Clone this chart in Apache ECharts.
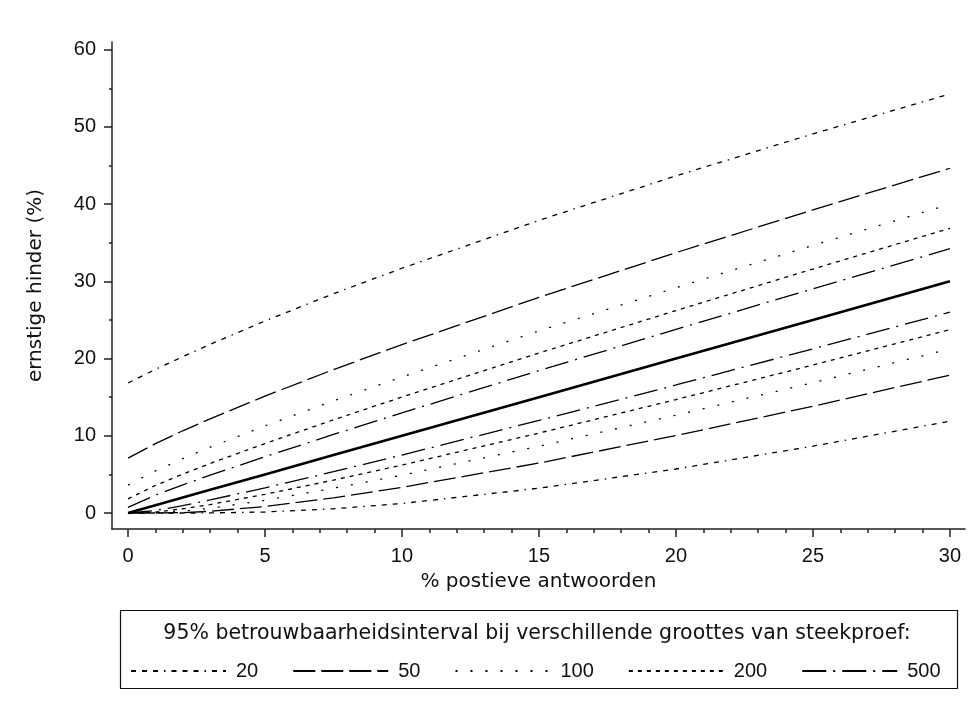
<!DOCTYPE html>
<html>
<head>
<meta charset="utf-8">
<script src="https://cdn.jsdelivr.net/npm/echarts@6/dist/echarts.min.js"></script>
<style>
  html, body { margin: 0; padding: 0; background: #ffffff; }
  #chart { width: 978px; height: 718px; }
</style>
</head>
<body>
<div id="chart"></div>
<script>
// % positive answers (x) at which the interval bounds are given
const pctPositive = [0, 1, 2, 3, 5, 7.5, 10, 15, 20, 25, 30];
// point estimate: severe annoyance equals % positive answers
const estimate = [0, 1, 2, 3, 5, 7.5, 10, 15, 20, 25, 30];

// 95% interval bounds (exact binomial) per sample size
const upper20  = [16.84, 18.6, 20.25, 21.85, 24.87, 28.4, 31.7, 37.9, 43.66, 49.1, 54.28];
const lower20  = [0, 0, 0, 0.01, 0.13, 0.55, 1.23, 3.21, 5.7, 8.66, 11.89];
const upper50  = [7.11, 8.98, 10.65, 12.2, 15.15, 18.57, 21.81, 27.93, 33.72, 39.26, 44.65];
const lower50  = [0, 0, 0.05, 0.22, 0.84, 1.97, 3.33, 6.47, 10.03, 13.83, 17.86];
const upper100 = [3.62, 5.45, 7.04, 8.52, 11.28, 14.53, 17.62, 23.59, 29.18, 34.66, 39.98];
const lower100 = [0, 0.03, 0.24, 0.62, 1.64, 3.21, 4.90, 8.65, 12.67, 16.88, 21.24];
const upper200 = [1.83, 3.57, 5.04, 6.42, 9.0, 12.07, 15.02, 20.72, 26.22, 31.6, 36.87];
const lower200 = [0, 0.12, 0.55, 1.10, 2.42, 4.26, 6.21, 10.35, 14.69, 19.16, 23.74];
const upper500 = [0.74, 2.32, 3.65, 4.90, 7.29, 10.17, 12.97, 18.44, 23.78, 29.04, 34.23];
const lower500 = [0, 0.33, 0.96, 1.69, 3.26, 5.35, 7.51, 11.99, 16.58, 21.26, 26.01];

const sampleSizes = ['20', '50', '100', '200', '500'];
const xTickLabels = [0, 5, 10, 15, 20, 25, 30];
const yTickLabels = [0, 10, 20, 30, 40, 50, 60];
const xMinorTicks = [1, 2, 3, 4, 6, 7, 8, 9, 11, 12, 13, 14, 16, 17, 18, 19, 21, 22, 23, 24, 26, 27, 28, 29];
const yMinorTicks = [5, 15, 25, 35, 45, 55];

const legendTitle = '95% betrouwbaarheidsinterval bij verschillende groottes van steekproef:';
const xName = '% postieve antwoorden';
const yName = 'ernstige hinder (%)';

const NUM_FONT = 'Liberation Sans, Arial, sans-serif';
const TXT_FONT = 'DejaVu Sans, Verdana, sans-serif';
const INK = '#000000';
const AXIS = '#222222';
const TEXT = '#111111';

// dash pattern of each sample size
const dashes = {
  '20':  [5, 6, 5, 6, 5, 6, 1.5, 6],
  '50':  [22, 6],
  '100': [2, 13],
  '200': [4, 5],
  '500': [24, 7, 2, 7]
};
const bounds = {
  '20':  [upper20, lower20],
  '50':  [upper50, lower50],
  '100': [upper100, lower100],
  '200': [upper200, lower200],
  '500': [upper500, lower500]
};

const pairs = arr => pctPositive.map((x, i) => [x, arr[i]]);

const series = [];
sampleSizes.forEach(n => {
  bounds[n].forEach(arr => {
    series.push({
      name: n,
      type: 'line',
      data: pairs(arr),
      symbol: 'none',
      silent: true,
      itemStyle: { color: 'rgba(0,0,0,0)', opacity: 0 },
      lineStyle: { color: INK, width: 1.3, type: dashes[n] },
      z: 3
    });
  });
});
series.push({
  name: 'schatting',
  type: 'line',
  data: pairs(estimate),
  symbol: 'none',
  silent: true,
  lineStyle: { color: INK, width: 2.6, type: 'solid' },
  z: 4
});

const minorAxisCommon = {
  axisLine: { show: false, onZero: false },
  axisLabel: { show: false },
  splitLine: { show: false }
};

const chart = echarts.init(document.getElementById('chart'), null, { renderer: 'canvas' });
chart.setOption({
  animation: false,
  backgroundColor: '#ffffff',
  textStyle: { fontFamily: NUM_FONT },
  grid: { left: 112, right: 13, top: 42, bottom: 189, containLabel: false },
  xAxis: [
    {
      type: 'value', min: -0.584, max: 30.55, position: 'bottom',
      name: xName, nameLocation: 'middle', nameGap: 43,
      nameTextStyle: { color: TEXT, fontSize: 20, fontFamily: TXT_FONT },
      axisLine: { onZero: false, lineStyle: { color: AXIS, width: 1.5 } },
      axisTick: { show: true, customValues: xTickLabels, length: 8, lineStyle: { color: AXIS, width: 1.5 } },
      axisLabel: { customValues: xTickLabels, color: TEXT, fontSize: 20, margin: 17, fontFamily: NUM_FONT },
      splitLine: { show: false }
    },
    Object.assign({
      type: 'value', min: -0.584, max: 30.55, position: 'bottom',
      axisTick: { show: true, customValues: xMinorTicks, length: 4, lineStyle: { color: AXIS, width: 1.5 } }
    }, minorAxisCommon)
  ],
  yAxis: [
    {
      type: 'value', min: -2.07, max: 61.0, position: 'left',
      name: yName, nameLocation: 'middle', nameGap: 66, nameRotate: 90,
      nameTextStyle: { color: TEXT, fontSize: 20, fontFamily: TXT_FONT },
      axisLine: { show: true, onZero: false, lineStyle: { color: AXIS, width: 1.5 } },
      axisTick: { show: true, customValues: yTickLabels, length: 8, lineStyle: { color: AXIS, width: 1.5 } },
      axisLabel: { customValues: yTickLabels, color: TEXT, fontSize: 20, margin: 16, fontFamily: NUM_FONT },
      splitLine: { show: false }
    },
    Object.assign({
      type: 'value', min: -2.07, max: 61.0, position: 'left',
      axisTick: { show: true, customValues: yMinorTicks, length: 3, lineStyle: { color: AXIS, width: 1.5 } }
    }, minorAxisCommon)
  ],
  legend: {
    data: sampleSizes,
    left: 130, top: 661,
    padding: 0,
    itemWidth: 95, itemHeight: 12, itemGap: 34,
    selectedMode: false,
    itemStyle: { opacity: 0 },
    textStyle: { color: TEXT, fontSize: 20, fontFamily: NUM_FONT, padding: [0, 0, 0, 5] }
  },
  graphic: [
    {
      type: 'rect', silent: true,
      shape: { x: 120.5, y: 610.5, width: 837, height: 78 },
      style: { fill: null, stroke: '#111', lineWidth: 1.2 }
    },
    {
      type: 'text', silent: true,
      x: 537, y: 634,
      style: { text: legendTitle, fill: TEXT, font: '20.5px ' + TXT_FONT, align: 'center', verticalAlign: 'middle' }
    }
  ],
  series: series
});
</script>
</body>
</html>
